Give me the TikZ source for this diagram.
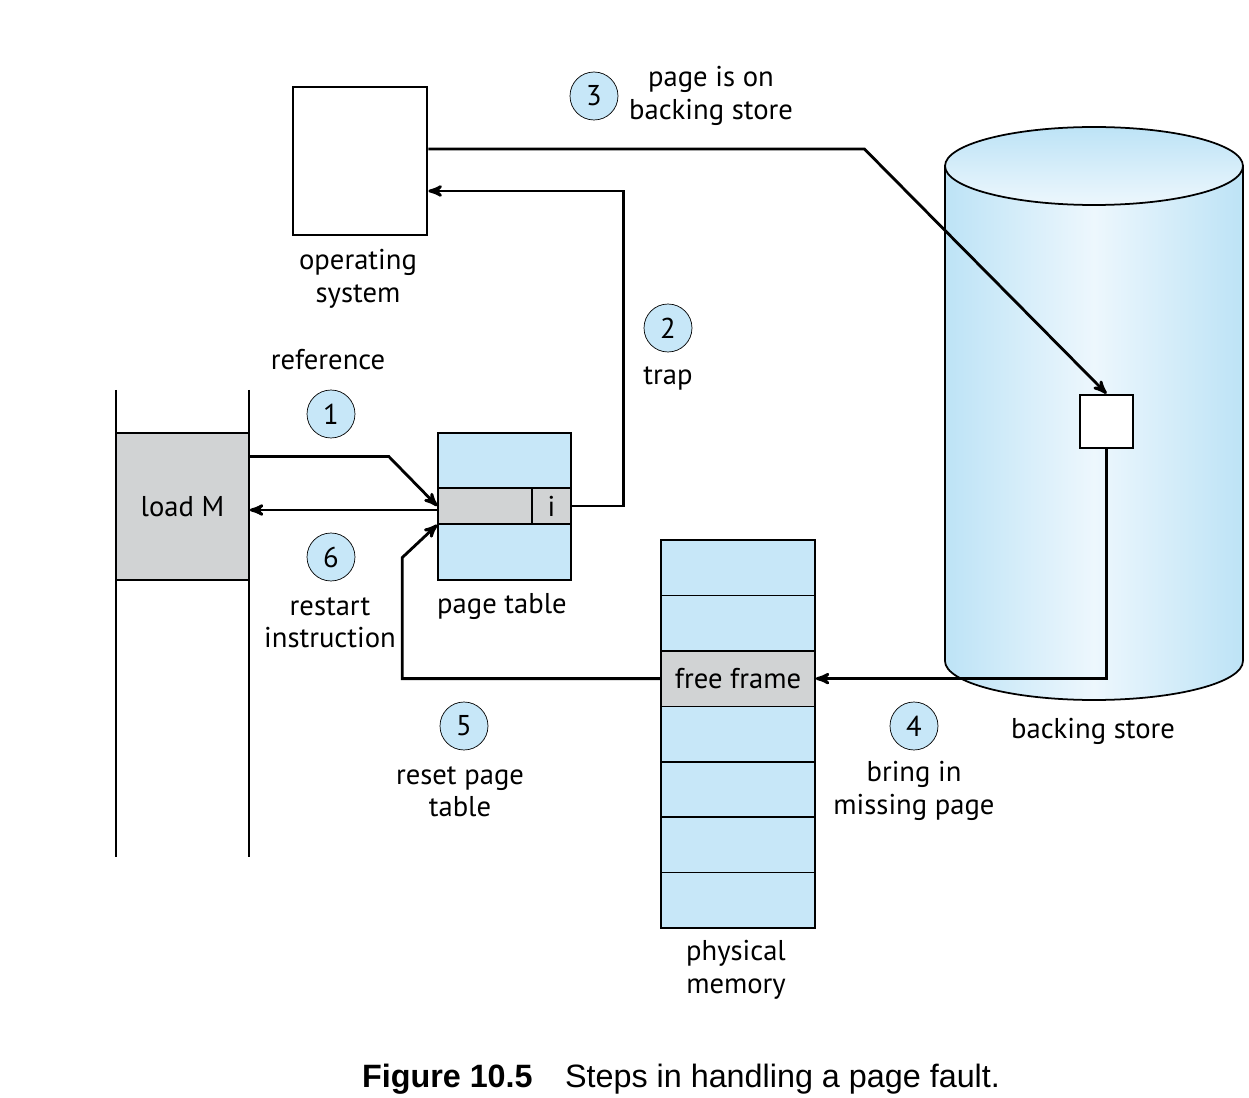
\documentclass[tikz,border=0pt]{standalone}
\usepackage{fontspec}
\setmainfont{PT Sans}
\newfontfamily\capfont{Liberation Sans}
\usetikzlibrary{arrows,positioning}
\definecolor{paleblue}{HTML}{C7E7F8}
\definecolor{cellgray}{HTML}{D1D3D4}
\definecolor{cylblue}{HTML}{BDE3F6}
\definecolor{cylwhite}{HTML}{EDF7FD}

\begin{document}
\begin{tikzpicture}[x=0.02cm,y=-0.02cm,>=stealth',font=\fontsize{16.3}{18.5}\selectfont]
		\tikzstyle{box}=[rectangle, draw=black, inner sep=0pt]
		\tikzstyle{stepnum}=[circle, draw=black, fill=paleblue, minimum size=9.6mm, inner sep=0pt]
		\tikzstyle{label}=[align=center, inner sep=0pt]
		\tikzstyle{conn}=[line width=1.6pt]
		\useasboundingbox (0,0) rectangle (1249,1098);

		% backing store
		\shadedraw[left color=cylblue, right color=cylblue, middle color=cylwhite, line width=1pt]
			(945,166) -- (945,661) arc[start angle=180, end angle=360, x radius=2.98cm, y radius=0.78cm] -- (1243,166) -- cycle;
		\shadedraw[top color=cylblue, bottom color=cylwhite, line width=1pt] (1094,166) ellipse[x radius=2.98cm, y radius=0.78cm];
		\node [box, fill=white, line width=1.6pt, minimum size=1.06cm] (sb) at (1106.5,421.5) {};
		\node [label] (bs) at (1093,731) {backing store};

		% operating system
		\node [box, line width=1.6pt, minimum width=2.68cm, minimum height=2.96cm] (os) at (360,161) {};
		\node [label] (osl) at (358,279) {operating\\system};

		% process
		\draw [line width=0.9pt] (116,390) -- (116,857);
		\draw [line width=0.9pt] (249,390) -- (249,857);
		\node [box, fill=cellgray, line width=0.9pt, minimum width=2.66cm, minimum height=2.94cm] (ld) at (182.5,506.5) {load M};

		% page table
		\node [box, fill=paleblue, line width=0.9pt, minimum width=2.66cm, minimum height=2.94cm] (pt) at (504.5,506.5) {};
		\node [box, fill=cellgray, line width=0.9pt, minimum width=1.88cm, minimum height=0.72cm] (row) at (485,506) {};
		\node [box, fill=cellgray, line width=0.9pt, minimum width=0.78cm, minimum height=0.72cm] (ic) at (551.5,506) {i};
		\node [label] (ptl) at (502,607) {page table};

		% physical memory
		\foreach \i in {1,2,4,5,6,7}
			\node [box, fill=paleblue, line width=0.9pt, minimum width=3.08cm, minimum height=1.108cm] (m\i) at (738,{512.3+55.43*\i}) {};
		\node [box, fill=cellgray, line width=0.9pt, minimum width=3.08cm, minimum height=1.108cm] (m3) at (738,678.6) {free frame};
		\node [label] (pml) at (736,970) {physical\\memory};

		% steps
		\node [stepnum] (s1) at (331,414) {1};
		\node [stepnum] (s2) at (668,328) {2};
		\node [stepnum] (s3) at (594,96) {3};
		\node [stepnum] (s4) at (914,726) {4};
		\node [stepnum] (s5) at (464,726) {5};
		\node [stepnum] (s6) at (331,557) {6};
		\node [label] (l1) at (328,360) {reference};
		\node [label] (l2) at (668,378) {trap};
		\node [label] (l3) at (711,96) {page is on\\backing store};
		\node [label] (l4) at (914,791) {bring in\\missing page};
		\node [label] (l5) at (460,792) {reset page\\table};
		\node [label] (l6) at (330,623) {restart\\instruction};

		% connectors
		\draw [conn,->] ([yshift=1cm]ld.east) -- ++(139,0) -- (row.west);
		\draw [conn,->] ([yshift=-0.08cm]row.west) -- ([yshift=-0.08cm]row.west -| ld.east);
		\draw [conn,->] (ic.east) -- ++(52,0) |- ([yshift=-0.6cm]os.east);
		\draw [conn,->] ([yshift=0.24cm]os.east) -- ++(436,0) -- (sb.north);
		\draw [conn,->] (sb.south) |- (m3.east);
		\draw [conn,->] (m3.west) -- ++(-258,0) -- ++(0,-121) -- (row.south west);

		% caption
		\node [label] (cap) at (681,1079) {\capfont\fontsize{18.4}{21}\selectfont\textbf{Figure 10.5}\quad Steps in handling a page fault.};
	\end{tikzpicture}
\end{document}
